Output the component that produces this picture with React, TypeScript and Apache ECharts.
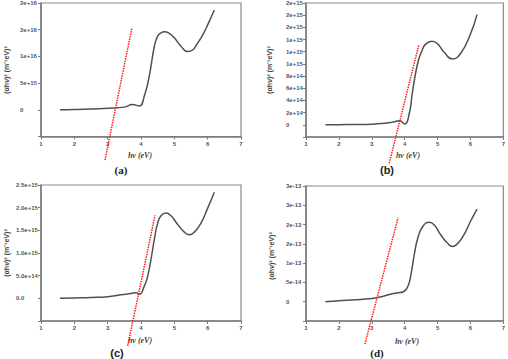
import React, { useEffect, useRef } from "react";
import * as echarts from "echarts";

// Panel (a)
const xA = [1.57, 2.0, 2.5, 3.0, 3.5, 3.75, 3.95, 4.1, 4.25, 4.4, 4.5, 4.6, 4.7, 4.85, 5.0, 5.2, 5.4, 5.55, 5.7, 5.85, 6.0, 6.2];
const yA = [0, 5e13, 1.5e14, 3e14, 5e14, 1e15, 7e14, 2.6e15, 6.4e15, 1.19e16, 1.38e16, 1.44e16, 1.46e16, 1.43e16, 1.35e16, 1.19e16, 1.09e16, 1.12e16, 1.25e16, 1.4e16, 1.59e16, 1.87e16];
const redAx = [2.92, 3.73];
const redAy = [-9.4e15, 1.54e16];
const ticksA = ["", "0", "5e+15", "1e+16", "2e+16", "2e+16"];

// Panel (b)
const xB = [1.59, 2.0, 2.5, 3.0, 3.3, 3.6, 3.85, 4.0, 4.14, 4.23, 4.33, 4.43, 4.53, 4.63, 4.83, 5.0, 5.2, 5.45, 5.7, 6.0, 6.2];
const yB = [0, 2e12, 5e12, 1e13, 2e13, 4e13, 6.5e13, 1.5e13, 1.85e14, 5.1e14, 8.4e14, 1.08e15, 1.22e15, 1.32e15, 1.37e15, 1.33e15, 1.19e15, 1.08e15, 1.17e15, 1.49e15, 1.81e15];
const redBx = [3.53, 4.43];
const redBy = [-6.3e14, 1.31e15];
const ticksB = ["", "0", "2e+14", "4e+14", "6e+14", "8e+14", "1e+15", "1e+15", "1e+15", "2e+15", "2e+15", "2e+15"];

// Panel (c)
const xC = [1.57, 2.0, 2.5, 3.0, 3.4, 3.7, 3.85, 3.95, 4.1, 4.2, 4.3, 4.4, 4.5, 4.6, 4.75, 4.9, 5.1, 5.3, 5.45, 5.6, 5.8, 6.0, 6.2];
const yC = [0, 1e13, 2e13, 3.7e13, 8e13, 1.05e14, 1.25e14, 9e13, 2.7e14, 4.9e14, 8.6e14, 1.3e15, 1.66e15, 1.82e15, 1.88e15, 1.82e15, 1.63e15, 1.46e15, 1.4e15, 1.46e15, 1.66e15, 1.99e15, 2.34e15];
const redCx = [3.6, 4.42];
const redCy = [-1.05e15, 1.83e15];
const ticksC = ["", "0.0", "5.0e+14", "1.0e+15", "1.5e+15", "2.0e+15", "2.5e+15"];

// Panel (d)
const xD = [1.59, 2.0, 2.5, 3.0, 3.3, 3.6, 3.8, 3.95, 4.1, 4.2, 4.3, 4.4, 4.55, 4.75, 4.9, 5.1, 5.3, 5.45, 5.6, 5.8, 6.0, 6.2];
const yD = [0, 2.6e-15, 5e-15, 8.6e-15, 1.3e-14, 2.0e-14, 2.3e-14, 2.5e-14, 4e-14, 7.5e-14, 1.26e-13, 1.65e-13, 1.95e-13, 2.06e-13, 1.99e-13, 1.73e-13, 1.52e-13, 1.43e-13, 1.5e-13, 1.73e-13, 2.08e-13, 2.4e-13];
const redDx = [2.79, 3.8];
const redDy = [-1.1e-13, 2.18e-13];
const ticksD = ["", "0", "5e-14", "1e-13", "2e-13", "2e-13", "3e-13", "3e-13"];

const xTicks = [1, 2, 3, 4, 5, 6, 7];
const yTitle = "(αhν)² (m⁻¹eV)²";
const xTitle = "hν (eV)";
const captions = ["(a)", "(b)", "(c)", "(d)"];

const zip = (xs: number[], ys: number[]) => xs.map((x, i) => [x, ys[i]]);

export default function App() {
  const ref = useRef<HTMLDivElement>(null);
  useEffect(() => {
    if (!ref.current) return;
    const chart = echarts.init(ref.current, undefined, { renderer: "svg" });
    const grids = [
      { left: 41, top: 2.5, width: 200, height: 134 },
      { left: 306, top: 2, width: 200, height: 135 },
      { left: 41, top: 185, width: 200, height: 136 },
      { left: 306, top: 186, width: 200, height: 135 },
    ];
    const yRanges = [
      { min: -5e15, max: 2e16, interval: 5e15, labels: ticksA, margin: 21 },
      { min: -2e14, max: 2e15, interval: 2e14, labels: ticksB, margin: 20 },
      { min: -5e14, max: 2.5e15, interval: 5e14, labels: ticksC, margin: 25 },
      { min: -5e-14, max: 3e-13, interval: 5e-14, labels: ticksD, margin: 20 },
    ];
    const curves = [zip(xA, yA), zip(xB, yB), zip(xC, yC), zip(xD, yD)];
    const reds = [zip(redAx, redAy), zip(redBx, redBy), zip(redCx, redCy), zip(redDx, redDy)];
    const axisColor = "#7a7a7a";
    const labelStyle = { fontSize: 6, color: "#555", fontFamily: "Liberation Sans", fontWeight: "bold" as const };

    const series: any[] = [];
    curves.forEach((c, i) => {
      series.push({
        type: "line",
        xAxisIndex: i,
        yAxisIndex: i,
        data: c,
        smooth: 0.5,
        showSymbol: false,
        symbol: "none",
        lineStyle: { color: "#505050", width: 1.5 },
        z: 2,
      });
      series.push({
        type: "line",
        xAxisIndex: i,
        yAxisIndex: i,
        data: reds[i],
        showSymbol: false,
        symbol: "none",
        clip: false,
        lineStyle: { color: "#ff1a1a", width: 1.5, type: [1.5, 1] },
        z: 3,
      });
    });

    const titlePos = [
      { yx: 6, yy: 70, xx: 140, xy: 155, cx: 121, cy: 170, serif: true },
      { yx: 269, yy: 70, xx: 408, xy: 155, cx: 387, cy: 170, serif: false },
      { yx: 6, yy: 253, xx: 140, xy: 340, cx: 117, cy: 353, serif: false },
      { yx: 271, yy: 256, xx: 407, xy: 341, cx: 377, cy: 353, serif: true },
    ];
    const graphics: any[] = [];
    titlePos.forEach((p, i) => {
      graphics.push({
        type: "text",
        x: p.yx,
        y: p.yy,
        rotation: Math.PI / 2,
        style: {
          text: yTitle,
          fontSize: 7,
          fontWeight: "bold",
          fontFamily: "Liberation Sans",
          fill: "#444",
          align: "center",
          verticalAlign: "middle",
        },
      });
      graphics.push({
        type: "text",
        x: p.xx,
        y: p.xy,
        style: {
          text: xTitle,
          fontSize: 8,
          fontWeight: "bold",
          fontStyle: "italic",
          fontFamily: "Liberation Serif",
          fill: "#444",
          align: "center",
          verticalAlign: "middle",
        },
      });
      graphics.push({
        type: "text",
        x: p.cx,
        y: p.cy,
        style: {
          text: captions[i],
          fontSize: 11,
          fontWeight: "bold",
          fontFamily: p.serif ? "Liberation Serif" : "Liberation Sans",
          fill: "#222",
          align: "center",
          verticalAlign: "middle",
        },
      });
    });

    chart.setOption({
      animation: false,
      backgroundColor: "#ffffff",
      grid: grids.map((g) => ({ ...g, show: true, borderColor: "#8a8a8a", borderWidth: 1.2, containLabel: false })),
      xAxis: grids.map((_, i) => ({
        type: "value",
        gridIndex: i,
        min: xTicks[0],
        max: xTicks[xTicks.length - 1],
        interval: 1,
        axisLine: { show: true, onZero: false, lineStyle: { color: axisColor, width: 1.5 } },
        axisTick: { show: true, inside: false, length: 3, lineStyle: { color: axisColor } },
        axisLabel: { ...labelStyle, margin: 4, formatter: (v: number) => String(v) },
        splitLine: { show: false },
      })),
      yAxis: yRanges.map((r, i) => ({
        type: "value",
        gridIndex: i,
        min: r.min,
        max: r.max,
        interval: r.interval,
        axisLine: { show: true, onZero: false, lineStyle: { color: axisColor, width: 1.5 } },
        axisTick: { show: true, inside: false, length: 3, lineStyle: { color: axisColor } },
        axisLabel: {
          ...labelStyle,
          align: "left",
          margin: r.margin,
          formatter: (v: number) => {
            const idx = Math.round((v - r.min) / r.interval);
            return r.labels[idx] ?? "";
          },
        },
        splitLine: { show: false },
      })),
      series,
      graphic: graphics,
    });
    return () => chart.dispose();
  }, []);
  return (
    <div
      ref={ref}
      style={{ position: "fixed", left: 0, top: 0, width: 508, height: 359, background: "#fff" }}
    />
  );
}
